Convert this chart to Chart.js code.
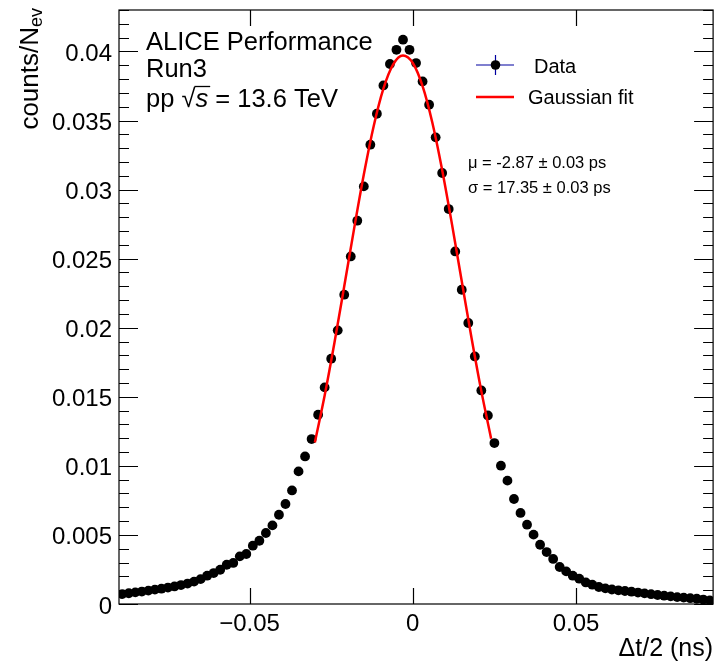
<!DOCTYPE html>
<html lang="en">
<head>
<meta charset="UTF-8">
<title>ALICE Performance - time resolution</title>
<script src="https://cdn.jsdelivr.net/npm/chart.js"></script>
<style>
  body { margin: 0; background: #fff; }
  #wrap { width: 718px; height: 663px; }
</style>
</head>
<body>
<div id="wrap"><canvas id="tofChart" width="718" height="663"></canvas></div>
<script>
// histogram binning, dt/2 in ns
const binLow = -0.09;
const binWidth = 0.002;
const xMin = -0.09, xMax = 0.092;
const yMin = 0, yMax = 0.043;

// counts / N_ev per bin
const counts = [
  0.00072, 0.00078, 0.00084, 0.00090, 0.00097, 0.00104, 0.00111, 0.00119, 0.00127, 0.00137,
  0.00148, 0.00162, 0.00180, 0.00205, 0.00224, 0.00248, 0.00284, 0.00297, 0.00345, 0.00362,
  0.00422, 0.00458, 0.00514, 0.00569, 0.00646, 0.00724, 0.00822, 0.00960, 0.01068, 0.01194,
  0.01370, 0.01568, 0.01776, 0.01981, 0.02239, 0.02516, 0.02775, 0.03023, 0.03325, 0.03549,
  0.03754, 0.03909, 0.04012, 0.04085, 0.04012, 0.03916, 0.03783, 0.03614, 0.03378, 0.03120,
  0.02859, 0.02552, 0.02275, 0.02034, 0.01792, 0.01546, 0.01365, 0.01165, 0.01001, 0.00893,
  0.00760, 0.00659, 0.00574, 0.00502, 0.00429, 0.00376, 0.00326, 0.00268, 0.00236, 0.00205,
  0.00183, 0.00156, 0.00140, 0.00123, 0.00113, 0.00105, 0.00099, 0.00094, 0.00089, 0.00083,
  0.00077, 0.00071, 0.00065, 0.00060, 0.00055, 0.00050, 0.00046, 0.00042, 0.00038, 0.00032,
  0.00026
];

// red fit curve, sampled from the plot
const fitX = [-0.030, -0.027, -0.024, -0.021, -0.018, -0.015, -0.012, -0.009, -0.006, -0.003,
              0.000, 0.003, 0.006, 0.009, 0.012, 0.015, 0.018, 0.021, 0.024];
const fitY = [0.01169, 0.01509, 0.01891, 0.02300, 0.02714, 0.03109, 0.03457, 0.03730, 0.03906, 0.03970,
              0.03916, 0.03749, 0.03484, 0.03142, 0.02750, 0.02336, 0.01926, 0.01541, 0.01197];

const yTicks = [0, 0.005, 0.01, 0.015, 0.02, 0.025, 0.03, 0.035, 0.04];
const yTickLabels = ['0', '0.005', '0.01', '0.015', '0.02', '0.025', '0.03', '0.035', '0.04'];
const yMinorStep = 0.001;
const xTicks = [-0.05, 0, 0.05];
const xTickLabels = ['\u22120.05', '0', '0.05'];

const FONT = '"Liberation Sans", Arial, Helvetica, sans-serif';

const dataPoints = counts.map((v, i) => ({ x: binLow + binWidth * (i + 0.5), y: v }));
const fitPoints = fitX.map((x, i) => ({ x: x, y: fitY[i] }));

// ROOT style frame, ticks, labels and text boxes
const rootFrame = {
  id: 'rootFrame',
  afterDraw(chart) {
    const ctx = chart.ctx;
    const a = chart.chartArea;
    const xs = chart.scales.x, ys = chart.scales.y;
    ctx.save();
    ctx.strokeStyle = '#000';
    ctx.fillStyle = '#000';
    ctx.lineWidth = 1.2;
    ctx.strokeRect(a.left, a.top, a.right - a.left, a.bottom - a.top);

    // y ticks both sides
    ctx.beginPath();
    const nMinor = Math.round((yMax - yMin) / yMinorStep);
    for (let k = 0; k <= nMinor; k++) {
      const py = Math.round(ys.getPixelForValue(yMin + k * yMinorStep)) + 0.5;
      const len = k % 5 === 0 ? 19 : 10;
      ctx.moveTo(a.left, py); ctx.lineTo(a.left + len, py);
      ctx.moveTo(a.right, py); ctx.lineTo(a.right - len, py);
    }
    // x ticks bottom and top
    xTicks.forEach(v => {
      const px = Math.round(xs.getPixelForValue(v)) + 0.5;
      ctx.moveTo(px, a.bottom); ctx.lineTo(px, a.bottom - 16);
      ctx.moveTo(px, a.top); ctx.lineTo(px, a.top + 16);
    });
    ctx.stroke();

    // tick labels
    ctx.font = '24px ' + FONT;
    ctx.textAlign = 'right';
    ctx.textBaseline = 'alphabetic';
    yTicks.forEach((v, i) => {
      ctx.fillText(yTickLabels[i], a.left - 7, ys.getPixelForValue(v) + 9.5);
    });
    ctx.textAlign = 'center';
    xTicks.forEach((v, i) => {
      ctx.fillText(xTickLabels[i], xs.getPixelForValue(v), 631);
    });

    // axis titles
    ctx.font = '25px ' + FONT;
    ctx.textAlign = 'right';
    ctx.fillText('\u0394t/2 (ns)', a.right, 656);

    ctx.save();
    ctx.translate(38, 8);
    ctx.rotate(-Math.PI / 2);
    ctx.textAlign = 'right';
    ctx.font = '18px ' + FONT;
    ctx.fillText('ev', 0, 4);
    const evW = ctx.measureText('ev').width;
    ctx.font = '26px ' + FONT;
    ctx.fillText('counts/N', -evW, 0);
    ctx.restore();

    // performance label
    ctx.textAlign = 'left';
    ctx.font = '25.5px ' + FONT;
    ctx.fillText('ALICE Performance', 146, 50);
    ctx.fillText('Run3', 146, 77);
    let tx = 146;
    ctx.fillText('pp ', tx, 107);
    tx += ctx.measureText('pp ').width;
    ctx.fillText('\u221A', tx, 107);
    tx += ctx.measureText('\u221A').width;
    ctx.font = 'italic 25.5px ' + FONT;
    const sW = ctx.measureText('s').width;
    ctx.fillText('s', tx, 107);
    ctx.lineWidth = 1.3;
    ctx.beginPath();
    ctx.moveTo(tx - 1, 86.5); ctx.lineTo(tx + sW + 2, 86.5);
    ctx.stroke();
    tx += sW;
    ctx.font = '25.5px ' + FONT;
    ctx.fillText(' = 13.6 TeV', tx, 107);

    // legend
    const lx0 = 476, lx1 = 514, lxc = 495.5;
    ctx.strokeStyle = '#0000a0';
    ctx.lineWidth = 1.2;
    ctx.beginPath();
    ctx.moveTo(lx0, 65); ctx.lineTo(lx1, 65);
    ctx.moveTo(lxc, 55); ctx.lineTo(lxc, 75);
    ctx.stroke();
    ctx.beginPath();
    ctx.arc(lxc, 65, 4.8, 0, Math.PI * 2);
    ctx.fill();
    ctx.strokeStyle = '#ff0000';
    ctx.lineWidth = 2.5;
    ctx.beginPath();
    ctx.moveTo(lx0, 97); ctx.lineTo(lx1, 97);
    ctx.stroke();
    ctx.font = '20px ' + FONT;
    ctx.fillText('Data', 534, 72.5);
    ctx.fillText('Gaussian fit', 528, 104);

    // fit parameters
    ctx.font = '16.5px ' + FONT;
    ctx.fillText('\u03BC = -2.87 \u00B1 0.03 ps', 468, 168);
    ctx.fillText('\u03C3 = 17.35 \u00B1 0.03 ps', 468, 192.5);
    ctx.restore();
  }
};

new Chart(document.getElementById('tofChart'), {
  type: 'scatter',
  data: {
    datasets: [
      {
        label: 'Gaussian fit',
        data: fitPoints,
        showLine: true,
        borderColor: '#ff0000',
        borderWidth: 2.5,
        pointRadius: 0,
        cubicInterpolationMode: 'monotone',
        order: 0,
        clip: 0
      },
      {
        label: 'Data',
        data: dataPoints,
        showLine: false,
        backgroundColor: '#000',
        borderColor: '#000',
        borderWidth: 0,
        pointRadius: 4.9,
        order: 1,
        clip: 0
      }
    ]
  },
  options: {
    responsive: false,
    devicePixelRatio: 1,
    animation: false,
    layout: { padding: { left: 119, right: 4, top: 10, bottom: 59 } },
    plugins: {
      legend: { display: false },
      tooltip: { enabled: false }
    },
    scales: {
      x: { type: 'linear', min: xMin, max: xMax, display: false },
      y: { type: 'linear', min: yMin, max: yMax, display: false }
    }
  },
  plugins: [rootFrame]
});
</script>
</body>
</html>
